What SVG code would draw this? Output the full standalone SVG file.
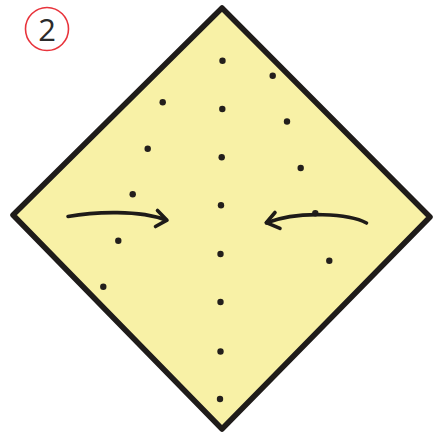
<svg xmlns="http://www.w3.org/2000/svg" width="436" height="435" viewBox="0 0 436 435">
<style>
.dot{fill:#231f1c}
.arr{fill:none;stroke:#1e1b18;stroke-width:3.6;stroke-linecap:round;stroke-linejoin:round}
</style>
<rect width="436" height="435" fill="#ffffff"/>
<g id="badge">
<circle cx="47" cy="29" r="21.5" fill="none" stroke="#e8343c" stroke-width="1.6"/>
<text x="47" y="40.5" text-anchor="middle" font-family="'Open Sans','DejaVu Sans',sans-serif" font-size="31" fill="#2b2b2b">2</text>
</g>
<g id="paper">
<polygon points="222,8 430,217 222,429 13,215" fill="#f8f1a6" stroke="#1f1c1a" stroke-width="5.5" stroke-linejoin="round"/>
</g>
<g id="dots">
<circle class="dot" cx="222.5" cy="60.7" r="3.2"/>
<circle class="dot" cx="222.3" cy="109" r="3.2"/>
<circle class="dot" cx="221.7" cy="157.3" r="3.2"/>
<circle class="dot" cx="221" cy="205.3" r="3.2"/>
<circle class="dot" cx="220.5" cy="254" r="3.2"/>
<circle class="dot" cx="220.5" cy="302" r="3.2"/>
<circle class="dot" cx="220.5" cy="351.5" r="3.2"/>
<circle class="dot" cx="220" cy="399" r="3.2"/>
<circle class="dot" cx="272.7" cy="75.7" r="3.2"/>
<circle class="dot" cx="287" cy="121.5" r="3.2"/>
<circle class="dot" cx="300.7" cy="168" r="3.2"/>
<circle class="dot" cx="315.3" cy="213.3" r="3.2"/>
<circle class="dot" cx="329.3" cy="260.7" r="3.2"/>
<circle class="dot" cx="162.7" cy="102.3" r="3.2"/>
<circle class="dot" cx="147.7" cy="148.7" r="3.2"/>
<circle class="dot" cx="132.7" cy="194.3" r="3.2"/>
<circle class="dot" cx="118.3" cy="240.7" r="3.2"/>
<circle class="dot" cx="103.3" cy="286.7" r="3.2"/>
</g>
<g id="connectors">
<path class="arr" d="M68,216.5 C95,211.5 140,210 166,220"/>
<path class="arr" d="M157.5,210.5 L167,220.2 L155.5,226.5"/>
<path class="arr" d="M366.5,223 C350,214 300,210 266.5,222.8"/>
<path class="arr" d="M275,212.5 L266.3,222.7 L280,228.3"/>
</g>
</svg>
